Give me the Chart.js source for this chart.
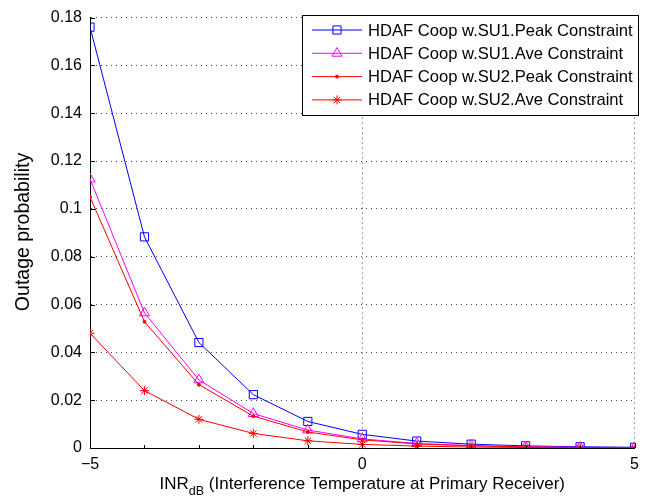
<!DOCTYPE html>
<html>
<head>
<meta charset="utf-8">
<script src="https://cdn.jsdelivr.net/npm/chart.js@4.4.0/dist/chart.umd.min.js"></script>
<style>
  html, body { margin: 0; padding: 0; background: #fff; }
  #wrap { width: 646px; height: 497px; }
</style>
</head>
<body>
<div id="wrap"><canvas id="myChart" width="646" height="497"></canvas></div>
<script>
// x values (INR in dB)
const inr_db = [-5, -4, -3, -2, -1, 0, 1, 2, 3, 4, 5];

// outage probability
const su1_peak = [0.176, 0.0883, 0.0441, 0.0223, 0.0111, 0.0057, 0.0029, 0.0016, 0.0009, 0.0005, 0.0003];
const su1_ave  = [0.1125, 0.0565, 0.0285, 0.0144, 0.0075, 0.0038, 0.0019, 0.0010, 0.0005, 0.0003, 0.0002];
const su2_peak = [0.1050, 0.0528, 0.0265, 0.0133, 0.0067, 0.0034, 0.0017, 0.0009, 0.0004, 0.0002, 0.0001];
const su2_ave  = [0.0480, 0.0240, 0.0120, 0.0061, 0.0030, 0.0015, 0.0008, 0.0004, 0.0002, 0.0001, 0.00005];

const series_names = [
  "HDAF Coop w.SU1.Peak Constraint",
  "HDAF Coop w.SU1.Ave Constraint",
  "HDAF Coop w.SU2.Peak Constraint",
  "HDAF Coop w.SU2.Ave Constraint"
];

const x_tick_labels = { "-5": "\u22125", "0": "0", "5": "5" };
const y_ticks = [0, 0.02, 0.04, 0.06, 0.08, 0.1, 0.12, 0.14, 0.16, 0.18];

const FONT = "'Liberation Sans', Arial, Helvetica, sans-serif";

const toPoints = (ys) => ys.map((y, i) => ({ x: inr_db[i], y: y }));

// legend box drawn inside the plot like matlab does
const boxLegend = {
  id: "boxLegend",
  afterDatasetsDraw(chart) {
    const ctx = chart.ctx;
    const x0 = 302.5, y0 = 15.5, w = 336, h = 100;
    ctx.save();
    ctx.fillStyle = "#fff";
    ctx.fillRect(x0, y0, w, h);
    ctx.strokeStyle = "#000";
    ctx.lineWidth = 1;
    ctx.strokeRect(x0, y0, w, h);
    chart.data.datasets.forEach((ds, i) => {
      const yy = 30 + i * 23.3;
      ctx.strokeStyle = ds.borderColor;
      ctx.lineWidth = 1;
      ctx.beginPath();
      ctx.moveTo(312, yy);
      ctx.lineTo(362, yy);
      ctx.stroke();
      ctx.fillStyle = ds.pointBackgroundColor;
      Chart.helpers.drawPoint(ctx, {
        pointStyle: ds.pointStyle,
        radius: ds.pointRadius,
        borderWidth: 1
      }, 337, yy);
      ctx.fillStyle = "#000";
      ctx.font = "16.6px " + FONT;
      ctx.textBaseline = "middle";
      ctx.textAlign = "left";
      ctx.fillText(ds.label, 368, yy + 1);
    });
    ctx.restore();
  }
};

// axis titles (x one has a subscript) and inward tick marks
const axisExtras = {
  id: "axisExtras",
  afterDraw(chart) {
    const ctx = chart.ctx;
    const area = chart.chartArea;
    const xs = chart.scales.x, ys = chart.scales.y;
    ctx.save();
    ctx.strokeStyle = "#000";
    ctx.lineWidth = 1;
    ctx.beginPath();
    y_ticks.forEach((v) => {
      const py = Math.round(ys.getPixelForValue(v)) + 0.5;
      ctx.moveTo(area.left, py); ctx.lineTo(area.left + 5, py);
    });
    inr_db.forEach((v) => {
      const px = Math.round(xs.getPixelForValue(v)) + 0.5;
      ctx.moveTo(px, area.bottom); ctx.lineTo(px, area.bottom - (x_tick_labels[v] ? 5 : 3));
    });
    ctx.stroke();

    ctx.fillStyle = "#000";
    // x title
    const main = "INR";
    const sub = "dB";
    const rest = " (Interference Temperature at Primary Receiver)";
    ctx.font = "17px " + FONT;
    const w1 = ctx.measureText(main).width;
    const w3 = ctx.measureText(rest).width;
    ctx.font = "12.5px " + FONT;
    const w2 = ctx.measureText(sub).width;
    const total = w1 + w2 + w3;
    let sx = (area.left + area.right) / 2 - total / 2;
    const by = 489;
    ctx.textBaseline = "alphabetic";
    ctx.textAlign = "left";
    ctx.font = "17px " + FONT;
    ctx.fillText(main, sx, by);
    ctx.font = "12.5px " + FONT;
    ctx.fillText(sub, sx + w1, by + 6);
    ctx.font = "17px " + FONT;
    ctx.fillText(rest, sx + w1 + w2, by);

    // y title
    ctx.font = "19.5px " + FONT;
    ctx.translate(24, 232);
    ctx.rotate(-Math.PI / 2);
    ctx.textAlign = "center";
    ctx.textBaseline = "middle";
    ctx.fillText("Outage probability", 0, 0);
    ctx.restore();
  }
};

const mkSet = (label, ys, color, style, radius, filled, order) => ({
  label: label,
  data: toPoints(ys),
  borderColor: color,
  backgroundColor: filled ? color : "rgba(0,0,0,0)",
  borderWidth: 1,
  pointStyle: style,
  pointRadius: radius,
  pointBorderWidth: 1,
  pointBorderColor: color,
  pointBackgroundColor: filled ? color : "rgba(0,0,0,0)",
  tension: 0,
  order: order
});

const datasets = [
  mkSet(series_names[0], su1_peak, "#0000ff", "rect", 5.8, false, 3),
  mkSet(series_names[1], su1_ave, "#ff00ff", "triangle", 5.8, false, 2),
  mkSet(series_names[2], su2_peak, "#ff0000", "circle", 1.5, true, 1),
  mkSet(series_names[3], su2_ave, "#ff0000", "star", 4.5, false, 0)
];

const config = {
  type: "line",
  data: { datasets: datasets },
  options: {
    responsive: false,
    animation: false,
    events: [],
    layout: { padding: { left: 0, right: 8, top: 15, bottom: 0 } },
    plugins: { legend: { display: false }, tooltip: { enabled: false } },
    scales: {
      x: {
        type: "linear",
        min: -5,
        max: 5,
        afterFit: (scale) => { scale.height = 49; },
        ticks: {
          stepSize: 1,
          autoSkip: false,
          maxRotation: 0,
          padding: 7,
          color: "#000",
          font: { family: FONT, size: 16 },
          callback: (v) => x_tick_labels[v] || ""
        },
        grid: {
          drawTicks: false,
          color: (c) => (c.tick && x_tick_labels[c.tick.value] && c.tick.value !== -5) ? "#444" : "rgba(0,0,0,0)",
          lineWidth: 1
        },
        // in v4 border.dash is what dashes the grid lines
        border: { display: true, color: "#000", width: 1, dash: [1, 4] }
      },
      y: {
        min: 0,
        max: 0.18,
        afterFit: (scale) => { scale.width = 90; },
        afterBuildTicks: (scale) => { scale.ticks = y_ticks.map((v) => ({ value: v })); },
        ticks: {
          padding: 8,
          color: "#000",
          font: { family: FONT, size: 16 },
          callback: (v) => String(parseFloat(v.toFixed(2)))
        },
        grid: {
          drawTicks: false,
          color: (c) => (c.tick && c.tick.value !== 0) ? "#444" : "rgba(0,0,0,0)",
          lineWidth: 1
        },
        border: { display: true, color: "#000", width: 1, dash: [1, 4] }
      }
    }
  },
  plugins: [boxLegend, axisExtras]
};

document.addEventListener("DOMContentLoaded", () => {
  const chart_target = document.querySelector("#myChart");
  new Chart(chart_target, config);
});
</script>
</body>
</html>
